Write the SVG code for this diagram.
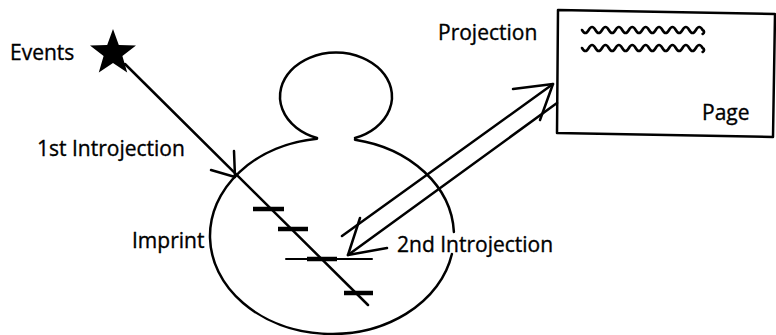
<svg xmlns="http://www.w3.org/2000/svg" width="776" height="335" viewBox="0 0 776 335">
<style>
  .ln{fill:none;stroke:#000;stroke-width:2.5;stroke-linecap:round;stroke-linejoin:round}
  .thin{fill:none;stroke:#000;stroke-width:2;stroke-linecap:round}
  .wav{fill:none;stroke:#000;stroke-width:2.6;stroke-linecap:round;stroke-linejoin:round}
  .bar{fill:none;stroke:#000;stroke-width:4.5;stroke-linecap:butt}
  .lbl{font-family:"Open Sans","Liberation Sans",sans-serif;font-size:21px;fill:#000;stroke:#000;stroke-width:0.35}
</style>
<rect width="776" height="335" fill="#fff"/>
<g id="events">
  <polygon points="113,29 118.8,45 136,45.6 122.4,55.9 127.2,72.4 113,63 98.8,72.4 103.6,55.9 90,45.6 107.2,45" fill="#000"/>
  <text class="lbl" x="10" y="60">Events</text>
</g>
<g id="person">
  <path class="ln" d="M317,138 A56,44 0 1 1 355,138"/>
  <path class="ln" d="M355,139.7 A122,98 0 0 1 453.9,232 M451.9,254 A122,98 0 1 1 317,138.7"/>
</g>
<g id="imprint">
  <line class="bar" x1="253" y1="209" x2="284" y2="209"/>
  <line class="bar" x1="278" y1="229" x2="308" y2="229"/>
  <line class="thin" x1="286" y1="259" x2="372" y2="259"/>
  <line class="bar" x1="307" y1="259" x2="337" y2="259"/>
  <line class="bar" x1="344" y1="293" x2="373" y2="293"/>
  <text class="lbl" x="132" y="248">Imprint</text>
</g>
<g id="page">
  <polygon class="ln" points="558,10 775,14 773,137 557,133"/>
  <path class="wav" d="M582,30 q3.35,6 6.7,0 t6.7,0 t6.7,0 t6.7,0 t6.7,0 t6.7,0 t6.7,0 t6.7,0 t6.7,0 t6.7,0 t6.7,0 t6.7,0 t6.7,0 t6.7,0 t6.7,0 t6.7,0 t6.7,0 t6.7,0 c2,1 2,3 0,4"/>
  <path class="wav" d="M582,48 q3.35,6 6.7,0 t6.7,0 t6.7,0 t6.7,0 t6.7,0 t6.7,0 t6.7,0 t6.7,0 t6.7,0 t6.7,0 t6.7,0 t6.7,0 t6.7,0 t6.7,0 t6.7,0 t6.7,0 t6.7,0 t6.7,0 c2,1 2,3 0,4"/>
  <text class="lbl" x="702" y="120">Page</text>
</g>
<g id="labels">
  <text class="lbl" x="37" y="156">1st Introjection</text>
  <text class="lbl" x="397" y="252">2nd Introjection</text>
  <text class="lbl" x="438" y="40">Projection</text>
</g>
<g id="connectors">
  <line class="ln" x1="125" y1="64" x2="368" y2="305"/>
  <polyline class="ln" points="211,170 235,177 234,151"/>
  <line class="ln" x1="342" y1="236" x2="553" y2="84"/>
  <line class="ln" x1="348" y1="255" x2="557" y2="103"/>
  <polyline class="ln" points="513,89 553,84 540,120"/>
  <polyline class="ln" points="360,218 348,255 387,248"/>
</g>
</svg>
